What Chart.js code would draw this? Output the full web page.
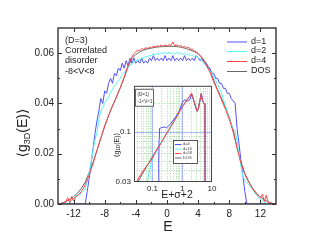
<!DOCTYPE html>
<html><head><meta charset="utf-8">
<script src="https://cdn.jsdelivr.net/npm/chart.js@4"></script>
<style>
html,body{margin:0;padding:0;background:#fff;}
#wrap{position:relative;width:321px;height:245px;overflow:hidden;}
#main{position:absolute;left:0;top:0;width:321px;height:245px;}
#inset{position:absolute;left:96px;top:78px;width:130px;height:126px;}
</style></head><body>
<div id="wrap"><canvas id="main" width="321" height="245"></canvas><canvas id="inset" width="130" height="126"></canvas></div>
<script>
// ---------- main chart data ----------
const E = [
 -14,-13.75,-13.5,-13.25, -13,-12.75,-12.5,-12.25, -12,-11.75,-11.5,-11.25, -11,-10.75,-10.5,-10.25,
 -10,-9.75,-9.5,-9.25, -9,-8.75,-8.5,-8.25, -8,-7.75,-7.5,-7.25, -7,-6.75,-6.5,-6.25,
 -6,-5.75,-5.5,-5.25, -5,-4.75,-4.5,-4.25, -4,-3.75,-3.5,-3.25, -3,-2.75,-2.5,-2.25,
 -2,-1.75,-1.5,-1.25, -1,-0.75,-0.5,-0.25, 0,0.25,0.5,0.75, 1,1.25,1.5,1.75,
 2,2.25,2.5,2.75, 3,3.25,3.5,3.75, 4,4.25,4.5,4.75, 5,5.25,5.5,5.75,
 6,6.25,6.5,6.75, 7,7.25,7.5,7.75, 8,8.25,8.5,8.75, 9,9.25,9.5,9.75,
 10,10.25,10.5,10.75, 11,11.25,11.5,11.75, 12,12.25,12.5,12.75, 13,13.25,13.5,13.75, 14
];
const d1 = [
 0,0,0,0, 0,0,0,0, 0,0,0,0, 0,0,0,0.005,
 .010,.016,.022,.028, .033,.037,.042,.040, .045,.044,.048,.050, .048,.052,.051,.054,
 .053,.056,.054,.057, .055,.058,.056,.058, .056,.057,.056,.058, .056,.057,.056,.058,
 .057,.059,.057,.058, .057,.058,.057,.059, .057,.058,.057,.059, .057,.058,.057,.058,
 .057,.059,.057,.058, .057,.058,.057,.059, .058,.057,.058,.056, .056,.054,.054,.052,
 .052,.050,.050,.048, .048,.046,.046,.044, .044,.042,.041,.040, .030,.024,.017,.011,
 .005,0,0,0, 0,0,0,0, 0,0,0,0, 0,0,0,0, 0
];
const d2 = [
 0,0,0,0, 0,0,.0005,.0015, .0022,.0030,.0038,.0035, .0045,.0050,.0062,.0090,
 .0125,.0165,.0215,.0255, .0285,.0335,.0370,.0385, .0400,.0415,.0425,.0445, .0455,.0470,.0478,.0490,
 .0500,.0515,.0522,.0535, .0542,.0552,.0558,.0565, .0568,.0575,.0572,.0582, .0580,.0588,.0585,.0592,
 .0590,.0598,.0592,.0600, .0595,.0602,.0596,.0603, .0598,.0604,.0597,.0602, .0596,.0603,.0597,.0601,
 .0595,.0600,.0593,.0598, .0590,.0594,.0586,.0590, .0580,.0578,.0568,.0560, .0550,.0540,.0530,.0518,
 .0505,.0490,.0475,.0460, .0440,.0415,.0392,.0365, .0336,.0320,.0300,.0290, .0250,.0200,.0150,.0110,
 .0095,.0085,.0075,.0068, .0058,.0045,.0035,.0025, .0018,.0012,.0006,.0002, 0,0,0,0, 0
];
const d4 = [
 0,0,.0002,.0005, .0008,.0025,.0005,.0030, .0012,.0028,.0032,.0040, .0050,.0062,.0078,.0095,
 .0115,.0138,.0160,.0188, .0212,.0238,.0262,.0286, .0310,.0331,.0352,.0372, .0390,.0408,.0425,.0445,
 .0463,.0485,.0505,.0528, .0550,.0568,.0585,.0598, .0606,.0612,.0610,.0618, .0615,.0622,.0618,.0625,
 .0621,.0628,.0624,.0630, .0626,.0632,.0627,.0633, .0628,.0634,.0630,.0645, .0629,.0633,.0627,.0631,
 .0624,.0628,.0620,.0624, .0615,.0617,.0608,.0606, .0598,.0590,.0580,.0568, .0555,.0540,.0525,.0505,
 .0485,.0468,.0450,.0432, .0413,.0395,.0377,.0357, .0337,.0312,.0285,.0255, .0222,.0192,.0163,.0140,
 .0118,.0102,.0086,.0074, .0060,.0050,.0040,.0032, .0025,.0038,.0010,.0035, .0005,.0004,.0002,0, 0
];
const Edos = [
 -14,-13.5,-13,-12.5,-12,-11.5,-11,-10.5,-10,-9.5,-9,-8.5,-8,-7.5,-7,-6.5,-6,-5.5,-5,-4.5,
 -4,-3.5,-3,-2.5,-2,-1.5,-1,-0.5,0,0.5,1,1.5,2,2.5,3,3.5,4,4.5,5,5.5,
 6,6.5,7,7.5,8,8.5,9,9.5,10,10.5,11,11.5,12,12.5,13,13.5,14
];
const dos = [
 0,.0004,.0010,.0018,.0029,.0043,.0062,.0088,.0125,.0165,.0213,.0262,.0310,.0352,.0390,.0425,.0462,.0502,.0545,.0578,
 .0595,.0605,.0612,.0617,.0620,.0623,.0625,.0626,.0627,.0627,.0627,.0625,.0622,.0618,.0612,.0606,.0598,.0582,.0562,.0536,
 .0492,.0455,.0420,.0385,.0345,.0295,.0225,.0168,.0122,.0088,.0063,.0043,.0027,.0016,.0008,.0003,0
];
const xTicks = [-12,-8,-4,0,4,8,12];
const xMinor = [-10,-6,-2,2,6,10];
const yTicks = [0,0.02,0.04,0.06];
const yMinor = [0.01,0.03,0.05];
const mainLegend = ['d=1','d=2','d=4','DOS'];
const mainNote = ['(D=3)','Correlated','disorder','-8<V<8'];

// ---------- inset data ----------
const ix4 = [0.16,0.163,0.167,0.172,0.2,0.25,0.3,0.4,0.6,0.8,1.0,1.2,1.5,1.8,2.05,2.3,2.6,2.9,3.2,3.5,3.8,4.2,4.4,4.7,5.2,5.6,5.8,5.85];
const iy4 = [0.029,0.05,0.085,0.108,0.110,0.112,0.110,0.120,0.142,0.165,0.200,0.215,0.208,0.215,0.245,0.222,0.198,0.175,0.163,0.175,0.200,0.235,0.248,0.215,0.200,0.195,0.190,0.029];
const ix16 = [0.065,0.075,0.09,0.11,0.15,0.2,0.3,0.5,0.7,1.0,1.3,1.6,1.9,2.05,2.3,2.6,2.9,3.2,3.5,3.8,4.2,4.4,4.7,5.2,5.6,5.8,5.85];
const iy16 = [0.029,0.036,0.047,0.056,0.066,0.079,0.096,0.126,0.150,0.183,0.207,0.223,0.238,0.245,0.222,0.197,0.174,0.165,0.176,0.201,0.236,0.248,0.215,0.200,0.194,0.190,0.029];
const ix58 = [0.026,0.04,0.06,0.09,0.13,0.2,0.3,0.45,0.7,1.0,1.3,1.6,1.9,2.05,2.3,2.6,2.9,3.2,3.5,3.8,4.2,4.4,4.7,5.2,5.6,5.8,5.85];
const iy58 = [0.028,0.036,0.043,0.050,0.062,0.077,0.097,0.118,0.148,0.182,0.203,0.225,0.240,0.252,0.222,0.200,0.176,0.163,0.177,0.202,0.232,0.252,0.213,0.202,0.193,0.190,0.029];
const ixDos = [0.032,0.05,0.1,0.2,0.3,0.5,0.7,1.0,1.3,1.6,1.9,2.05,2.3,2.6,2.9,3.2,3.5,3.8,4.2,4.4,4.7,5.2,5.6,5.8,5.85];
const iyDos = [0.030,0.038,0.055,0.078,0.095,0.125,0.150,0.180,0.205,0.222,0.242,0.250,0.225,0.198,0.175,0.165,0.175,0.200,0.235,0.250,0.215,0.200,0.195,0.190,0.029];
const ixTicks = [0.1,1,10];
const iyTicks = [0.03,0.1];
const ixMajor = [0.1,1];
const ixMinor = [0.03,0.04,0.05,0.06,0.07,0.08,0.09,0.2,0.3,0.4,0.5,0.6,0.7,0.8,0.9,2,3,4,5,6,7,8,9];
const iyMajor = [0.1];
const iyMinor = [0.04,0.05,0.06,0.07,0.08,0.09,0.2];
const insetLegend = ['d=4','d=16','d=58','DOS'];
const insetNote = ['(D=1)','-1<V<1'];

const COL = {blue:'#5050ff', cyan:'#55f5f5', red:'#ff4646', gray:'#686868'};
const FONT = '"Liberation Sans", Arial, "DejaVu Sans", sans-serif';
Chart.defaults.font.family = FONT;

function pairs(xs, ys){ return xs.map((x,i)=>({x:x, y:ys[i]})); }

function rotSub(ctx, cx, cy, parts, big, small){
  ctx.save();
  ctx.translate(cx, cy);
  ctx.rotate(-Math.PI/2);
  ctx.textBaseline = 'middle';
  ctx.textAlign = 'left';
  const f1 = big+'px '+FONT, f2 = small+'px '+FONT;
  ctx.font = f1; const w0 = ctx.measureText(parts[0]).width, w2 = ctx.measureText(parts[2]).width;
  ctx.font = f2; const w1 = ctx.measureText(parts[1]).width;
  let x0 = -(w0+w1+w2)/2;
  ctx.font = f1; ctx.fillText(parts[0], x0, 0);
  ctx.font = f2; ctx.fillText(parts[1], x0+w0, big*0.3);
  ctx.font = f1; ctx.fillText(parts[2], x0+w0+w1, 0);
  ctx.restore();
}

const mainDecor = {
  id:'mainDecor',
  afterDraw(chart){
    const ctx = chart.ctx, a = chart.chartArea, sx = chart.scales.x, sy = chart.scales.y;
    ctx.save();
    ctx.strokeStyle = '#333'; ctx.lineWidth = 1;
    ctx.beginPath();
    const tx = (v,len)=>{ const p = Math.round(sx.getPixelForValue(v))+0.5;
      ctx.moveTo(p,a.bottom); ctx.lineTo(p,a.bottom-len); ctx.moveTo(p,a.top); ctx.lineTo(p,a.top+len); };
    const ty = (v,len)=>{ const p = Math.round(sy.getPixelForValue(v))+0.5;
      ctx.moveTo(a.left,p); ctx.lineTo(a.left+len,p); ctx.moveTo(a.right,p); ctx.lineTo(a.right-len,p); };
    xTicks.forEach(v=>tx(v,4)); xMinor.forEach(v=>tx(v,2));
    yTicks.forEach(v=>ty(v,4)); yMinor.forEach(v=>ty(v,2));
    ctx.stroke();
    ctx.lineWidth = 1.4; ctx.strokeStyle = '#333';
    ctx.strokeRect(a.left, a.top, a.right-a.left, a.bottom-a.top);
    ctx.fillStyle = '#222'; ctx.font = '9px '+FONT; ctx.textBaseline='middle'; ctx.textAlign='left';
    const rows = [40.5, 50.8, 61, 71.2];
    mainNote.forEach((t,i)=>ctx.fillText(t, 65, rows[i]));
    const cols = [COL.blue, COL.cyan, COL.red, COL.gray];
    const lrows = [41.5, 51, 61, 71];
    ctx.lineWidth = 1;
    mainLegend.forEach((t,i)=>{
      ctx.strokeStyle = cols[i]; ctx.beginPath(); ctx.moveTo(227, lrows[i]+0.5); ctx.lineTo(247, lrows[i]+0.5); ctx.stroke();
      ctx.fillText(t, 251, lrows[i]);
    });
    ctx.font = '14px '+FONT; ctx.textAlign='center';
    ctx.fillText('E', 168, 227);
    rotSub(ctx, 23, 133, ['\u27E8g','3D','(E)\u27E9'], 14, 9);
    ctx.restore();
  }
};

new Chart(document.getElementById('main'), {
  type:'line',
  data:{datasets:[
    {label:'d=1', data:pairs(E,d1), borderColor:COL.blue, order:2},
    {label:'d=2', data:pairs(E,d2), borderColor:COL.cyan, order:1},
    {label:'d=4', data:pairs(E,d4), borderColor:COL.red, order:0},
    {label:'DOS', data:pairs(Edos,dos), borderColor:COL.gray, borderWidth:1, order:3}
  ]},
  options:{
    responsive:false, animation:false, devicePixelRatio:1,
    layout:{padding:{left:0, top:28, right:45, bottom:0}},
    plugins:{legend:{display:false}, tooltip:{enabled:false}},
    elements:{point:{radius:0}, line:{borderWidth:1, tension:0}},
    scales:{
      x:{type:'linear', min:-14, max:14,
         grid:{display:false, drawTicks:false}, border:{display:false},
         afterBuildTicks(s){ s.ticks = xTicks.map(v=>({value:v})); },
         afterFit(s){ s.height = 41; },
         ticks:{padding:4, font:{size:10}, color:'#222', maxRotation:0, autoSkip:false, callback:v=>String(v)}},
      y:{type:'linear', min:0, max:0.07,
         grid:{display:false, drawTicks:false}, border:{display:false},
         afterBuildTicks(s){ s.ticks = yTicks.map(v=>({value:v})); },
         afterFit(s){ s.width = 58; },
         ticks:{padding:4, font:{size:10}, color:'#222', autoSkip:false, callback:v=>Number(v).toFixed(2)}}
    }
  },
  plugins:[mainDecor]
});

const insetDecor = {
  id:'insetDecor',
  beforeDraw(chart){
    const ctx = chart.ctx, a = chart.chartArea;
    ctx.save(); ctx.fillStyle = '#fff'; ctx.fillRect(a.left, a.top, a.right-a.left, a.bottom-a.top); ctx.restore();
  },
  beforeDatasetsDraw(chart){
    const ctx = chart.ctx, a = chart.chartArea, sx = chart.scales.x, sy = chart.scales.y;
    ctx.save(); ctx.lineWidth = 1;
    ctx.strokeStyle = '#a6dca6'; ctx.setLineDash([1,1.5]);
    ctx.beginPath();
    ixMinor.forEach(v=>{ const p=Math.round(sx.getPixelForValue(v))+0.5; ctx.moveTo(p,a.top); ctx.lineTo(p,a.bottom); });
    iyMinor.forEach(v=>{ const p=Math.round(sy.getPixelForValue(v))+0.5; ctx.moveTo(a.left,p); ctx.lineTo(a.right,p); });
    ctx.stroke();
    ctx.setLineDash([]); ctx.strokeStyle = '#aab6ff';
    ctx.beginPath();
    ixMajor.forEach(v=>{ const p=Math.round(sx.getPixelForValue(v))+0.5; ctx.moveTo(p,a.top); ctx.lineTo(p,a.bottom); });
    iyMajor.forEach(v=>{ const p=Math.round(sy.getPixelForValue(v))+0.5; ctx.moveTo(a.left,p); ctx.lineTo(a.right,p); });
    ctx.stroke();
    ctx.restore();
  },
  afterDraw(chart){
    const ctx = chart.ctx, a = chart.chartArea;
    ctx.save();
    ctx.strokeStyle = '#444'; ctx.lineWidth = 1;
    ctx.strokeRect(a.left+0.5, a.top+0.5, a.right-a.left-1, a.bottom-a.top-1);
    ctx.fillStyle='#fff'; ctx.fillRect(a.left+1, a.top+3, 18, 17);
    ctx.strokeStyle='#666'; ctx.strokeRect(a.left+1.5, a.top+3.5, 18, 17);
    ctx.fillStyle='#333'; ctx.font='4.6px '+FONT; ctx.textBaseline='middle'; ctx.textAlign='left';
    ctx.fillText(insetNote[0], a.left+3.5, a.top+8.5);
    ctx.fillText(insetNote[1], a.left+3.5, a.top+15.5);
    const lx = 77, ly = 62;
    ctx.fillStyle='#fff'; ctx.fillRect(lx, ly, 24, 23);
    ctx.strokeStyle='#555'; ctx.strokeRect(lx+0.5, ly+0.5, 24, 23);
    const cols = [COL.blue, COL.cyan, COL.red, COL.gray];
    const rows = [66, 70.5, 75, 79.5];
    ctx.font='4px '+FONT;
    insetLegend.forEach((t,i)=>{
      ctx.strokeStyle=cols[i]; ctx.beginPath(); ctx.moveTo(lx+2, rows[i]+0.5); ctx.lineTo(lx+8.5, rows[i]+0.5); ctx.stroke();
      ctx.fillStyle='#444'; ctx.fillText(t, lx+10, rows[i]);
    });
    ctx.fillStyle='#222'; ctx.font='10.5px '+FONT; ctx.textAlign='center';
    ctx.fillText('E+\u03C3+2', 81, 117);
    rotSub(ctx, 21, 67, ['\u27E8g','1D','(E)\u27E9'], 7, 4.5);
    ctx.restore();
  }
};

new Chart(document.getElementById('inset'), {
  type:'line',
  data:{datasets:[
    {label:'d=4', data:pairs(ix4,iy4), borderColor:COL.blue, order:1},
    {label:'d=16', data:pairs(ix16,iy16), borderColor:COL.cyan, order:2},
    {label:'d=58', data:pairs(ix58,iy58), borderColor:COL.red, order:0},
    {label:'DOS', data:pairs(ixDos,iyDos), borderColor:COL.gray, order:3}
  ]},
  options:{
    responsive:false, animation:false, devicePixelRatio:1,
    layout:{padding:{left:0, top:6, right:14, bottom:0}},
    plugins:{legend:{display:false}, tooltip:{enabled:false}},
    elements:{point:{radius:0}, line:{borderWidth:1, tension:0}},
    scales:{
      x:{type:'logarithmic', min:0.024, max:10,
         grid:{display:false, drawTicks:false}, border:{display:false},
         afterBuildTicks(s){ s.ticks = ixTicks.map(v=>({value:v})); },
         afterFit(s){ s.height = 22; },
         ticks:{padding:2, font:{size:8}, color:'#222', maxRotation:0, autoSkip:false, callback:v=>String(v)}},
      y:{type:'logarithmic', min:0.03, max:0.3,
         grid:{display:false, drawTicks:false}, border:{display:false},
         afterBuildTicks(s){ s.ticks = iyTicks.map(v=>({value:v})); },
         afterFit(s){ s.width = 38; },
         ticks:{padding:3, font:{size:8}, color:'#222', autoSkip:false, callback:v=>String(v)}}
    }
  },
  plugins:[insetDecor]
});
</script>
</body></html>
